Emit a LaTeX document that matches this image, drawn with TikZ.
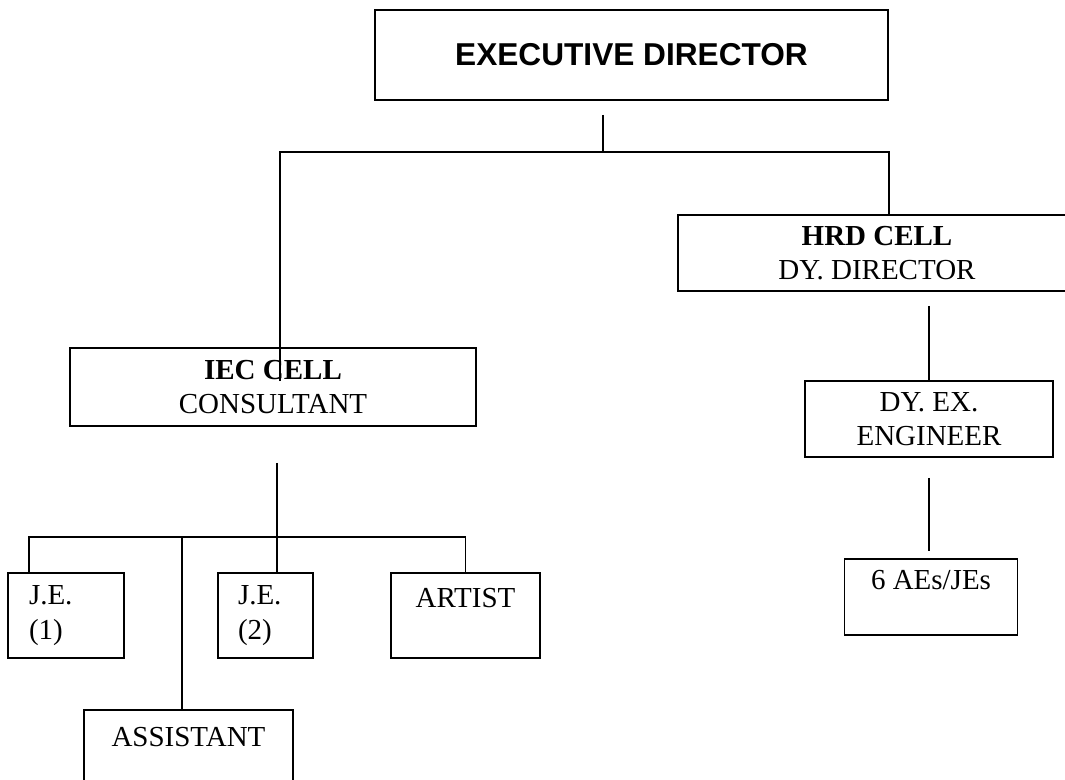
\documentclass[tikz,border=0pt]{standalone}
\usepackage{fontspec}
\setmainfont{Liberation Serif}
\newfontfamily\headfont{Liberation Sans}

\begin{document}
\begin{tikzpicture}[x=0.02cm,y=-0.02cm,line width=1.1pt,
  every node/.style={draw,rectangle,inner sep=0pt,align=center,font=\fontsize{16.5}{19.5}\selectfont}]
\useasboundingbox (0,0) rectangle (1065,779);

% top
\node (ed) [minimum width=10.26cm,minimum height=1.8cm,font=\headfont\bfseries\fontsize{18}{21}\selectfont] at (631.5,55) {EXECUTIVE DIRECTOR};

% HRD side
\node (hrd) [minimum width=7.96cm,minimum height=1.52cm] at (877,253) {\textbf{HRD CELL}\\DY. DIRECTOR};
\node (dyex) [minimum width=4.96cm,minimum height=1.52cm] at (929,419) {DY. EX.\\ENGINEER};
\node (aes) [minimum width=3.46cm,minimum height=1.52cm] at (931,597) {6 AEs/JEs\\\mbox{}};

% IEC side
\node (iec) [minimum width=8.12cm,minimum height=1.56cm] at (273,387) {\textbf{IEC CELL}\\CONSULTANT};
\node (je1) [minimum width=2.32cm,minimum height=1.7cm,inner xsep=0.42cm,text width=1.48cm,align=left] at (66,615.5) {J.E.\\(1)};
\node (je2) [minimum width=1.9cm,minimum height=1.7cm,inner xsep=0.4cm,text width=1.1cm,align=left] at (265.5,615.5) {J.E.\\(2)};
\node (artist) [minimum width=2.98cm,minimum height=1.7cm] at (465.5,615.5) {ARTIST\\\mbox{}};
\node (assistant) [minimum width=4.18cm,minimum height=1.76cm] at (188.5,754) {ASSISTANT\\\mbox{}};

\coordinate (edjoin) at (603,152);
\coordinate (iecx) at (280,152);
\coordinate (hrdx) at (889,152);
\coordinate (teamjoin) at (277,537);
\coordinate (j1) at (29,537);
\coordinate (as) at (182,537);

\draw[shorten <=0.28cm] (ed.south -| edjoin) -- (edjoin);
\draw[shorten <=-0.68cm] (iec.north -| iecx) -- (iecx) -- (hrdx) -- (hrd.north -| hrdx);
\draw[shorten <=0.28cm] (hrd.south -| dyex.north) -- (dyex.north);
\draw[shorten <=0.4cm,shorten >=0.14cm] (dyex.south) -- (dyex.south |- aes.north);

\draw[shorten <=0.72cm] (iec.south -| teamjoin) -- (teamjoin);
\draw (je1.north -| j1) -- (j1) -- (j1 -| artist.north) -- (artist.north);
\draw (as) -- (assistant.north -| as);
\draw (teamjoin) -- (je2.north -| teamjoin);
\end{tikzpicture}
\end{document}
